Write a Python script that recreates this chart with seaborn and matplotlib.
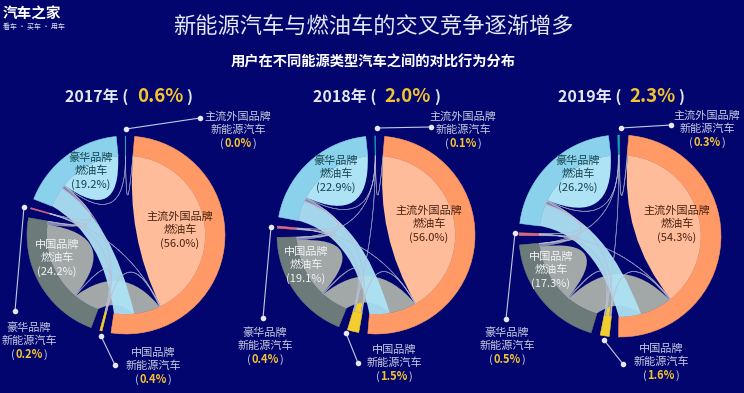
import numpy as np
import pandas as pd
import seaborn as sns
import matplotlib.pyplot as plt
from matplotlib.path import Path
from matplotlib.patches import PathPatch

sns.set_theme(style="dark")
plt.rcParams['font.family'] = ['Noto Sans CJK SC', 'DejaVu Sans']
plt.rcParams['axes.unicode_minus'] = False

BG = '#03056E'
WHITE = '#E4E8F2'
GOLD = '#F4C430'

# 年份与标题数据
years = ['2017年', '2018年', '2019年']
year_total = ['0.6%', '2.0%', '2.3%']

# 标签上的占比
luxury_oil = ['19.2%', '22.9%', '26.2%']
china_oil = ['24.2%', '19.1%', '17.3%']
foreign_oil = ['56.0%', '56.0%', '54.3%']
foreign_nev = ['0.0%', '0.1%', '0.3%']
luxury_nev = ['0.2%', '0.4%', '0.5%']
china_nev = ['0.4%', '1.5%', '1.6%']

# 弦的宽度: O主流外国燃油 Y中国新能源 G中国燃油 P豪华新能源 B豪华燃油 T主流外国新能源
link_pairs = ['OO', 'GG', 'BB', 'YY', 'PP', 'TT', 'OG', 'OB', 'OY', 'OP', 'OT',
              'GB', 'GY', 'GP', 'GT', 'BY', 'BP', 'BT', 'YP', 'YT']
links_2017 = [45.43, 17.57, 13.85, 0.04, 0.02, 0.0, 5.8, 4.5, 0.2, 0.05, 0.02,
              0.7, 0.08, 0.05, 0.0, 0.07, 0.07, 0.01, 0.01, 0.0]
links_2018 = [45.1, 13.7, 17.37, 1.53, 0.12, 0.0, 6.1, 4.6, 0.1, 0.03, 0.05,
              0.6, 0.2, 0.1, 0.02, 0.2, 0.1, 0.03, 0.05, 0.02]
links_2019 = [41.8, 13.1, 17.65, 0.82, 0.17, 0.02, 7.0, 4.9, 0.25, 0.05, 0.15,
              0.6, 0.2, 0.1, 0.03, 0.2, 0.1, 0.05, 0.08, 0.05]
all_links = [links_2017, links_2018, links_2019]

# 每个节点上弦的顺时针排列
node_order = ['O', 'Y', 'G', 'P', 'B', 'T']
partner_order = {
    'O': ['T', 'O', 'P', 'Y', 'G', 'B'],
    'Y': ['B', 'O', 'Y', 'T', 'G', 'P'],
    'G': ['O', 'Y', 'G', 'B', 'T', 'P'],
    'P': ['G', 'P', 'O', 'Y', 'B'],
    'B': ['O', 'P', 'G', 'Y', 'T', 'B'],
    'T': ['B', 'G', 'Y', 'T', 'O'],
}
ring_color = {'O': '#FF9A66', 'Y': '#F2CE2E', 'G': '#6C7A79', 'P': '#D9697F', 'B': '#8AD2EC', 'T': '#17A5B8'}
self_color = {'O': '#FFBC9A', 'Y': '#F2CE2E', 'G': '#A2A7A8', 'P': '#E8A8B4', 'B': '#ADE3F5', 'T': '#C9CEDC'}
petal_bend = {'O': 1.0, 'Y': 0.85, 'G': 0.95, 'P': 0.85, 'B': 0.85, 'T': 0.85}

# 版面(像素)
centers = [(126, 235, 99), (376, 235, 99), (620, 236, 101)]
year_x = [(65, 137, 186), (313, 384, 434), (558, 629, 678)]
foreign_pos = [(180, 230), (429, 224), (677, 224)]
luxury_pos = [(91, 171), (336, 174), (578, 174)]
china_pos = [(57, 258), (306, 265), (551, 270)]
t_line = [(126, 129, 200, 118), (377, 128, 431, 127), (621, 128, 671, 125)]
p_line = [(24, 207, 15, 311), (271, 227, 263, 318), (515, 233, 506, 319)]
y_line = [(101, 336, 115, 365), (346, 333, 358, 363), (604, 340, 623, 364)]
t_label = [(238, 130), (463, 130), (707, 129)]
p_label = [(29, 341), (265, 346), (507, 346)]
y_label = [(153, 366), (394, 363), (661, 362)]

START = 5.0
GAP = 5.3
INNER = 0.8
# 蓝色宽带两条边的控制点(角度, 半径比例)
BAND_RIGHT = (317, 0.26)
BAND_LEFT = (270, 0.29)


def pt(c, a, r):
    rad = np.radians(a)
    return (c[0] + r * np.sin(rad), c[1] - r * np.cos(rad))


def arc(c, a0, a1, r, n=40):
    return [pt(c, a, r) for a in np.linspace(a0, a1, n)]


def ctrl(c, p0, p1, t):
    m = ((p0[0] + p1[0]) / 2, (p0[1] + p1[1]) / 2)
    return (m[0] + t * (c[0] - m[0]), m[1] + t * (c[1] - m[1]))


def bend(a, b):
    d = abs(a - b) % 360
    d = min(d, 360 - d)
    return min(1.0, (d / 90) ** 1.5)


def ribbon(ax, c, seg0, seg1, color, edge='none', lw=0, alpha=1.0, force=None, z=3, polar=None):
    r = c[2] * INNER
    pts0 = arc(c, seg0[0], seg0[1], r)
    pts1 = arc(c, seg1[0], seg1[1], r)
    if polar is not None:
        c1 = pt(c, polar[0][0], polar[0][1] * r)
        c2 = pt(c, polar[1][0], polar[1][1] * r)
    else:
        t1 = force if force is not None else bend(seg0[1], seg1[0])
        t2 = force if force is not None else bend(seg1[1], seg0[0])
        c1 = ctrl(c, pts0[-1], pts1[0], t1)
        c2 = ctrl(c, pts1[-1], pts0[0], t2)
    verts = list(pts0)
    codes = [Path.MOVETO] + [Path.LINETO] * (len(pts0) - 1)
    verts += [c1, pts1[0]]
    codes += [Path.CURVE3, Path.CURVE3]
    verts += pts1[1:]
    codes += [Path.LINETO] * (len(pts1) - 1)
    verts += [c2, pts0[0]]
    codes += [Path.CURVE3, Path.CURVE3]
    ax.add_patch(PathPatch(Path(verts, codes), facecolor=color, edgecolor=edge, lw=lw, alpha=alpha, zorder=z))


def petal(ax, c, a0, a1, color, t=0.85):
    r = c[2] * INNER
    pts = arc(c, a0, a1, r)
    verts = list(pts) + [ctrl(c, pts[-1], pts[0], t), pts[0]]
    codes = [Path.MOVETO] + [Path.LINETO] * (len(pts) - 1) + [Path.CURVE3, Path.CURVE3]
    ax.add_patch(PathPatch(Path(verts, codes), facecolor=color, edgecolor='none', zorder=3))


def draw_chord(ax, c, values):
    table = pd.DataFrame({'pair': link_pairs, 'value': values})
    lookup = {}
    for pair, v in zip(table['pair'], table['value']):
        lookup[pair] = v
        lookup[pair[::-1]] = v
    total = sum(lookup[n + m] for n in node_order for m in partner_order[n])
    scale = (360 - GAP * len(node_order)) / total

    # 计算每段弧的角度
    segs = {}
    a = START
    for n in node_order:
        a0 = a
        for m in partner_order[n]:
            w = lookup[n + m] * scale
            segs[n + m] = (a, a + w)
            a += w
        ring = arc(c, a0, a, c[2]) + arc(c, a, a0, c[2] * INNER)
        ax.fill([p[0] for p in ring], [p[1] for p in ring], color=ring_color[n], lw=0.4, zorder=2)
        a += GAP

    # 自身的花瓣
    for n in node_order:
        if lookup[n + n] > 0:
            petal(ax, c, segs[n + n][0], segs[n + n][1], self_color[n], t=petal_bend[n])

    # 粗弦
    ribbon(ax, c, segs['GO'], segs['OG'], '#A2A7A8', z=4)
    ribbon(ax, c, segs['BO'], segs['OB'], '#ADE3F5', alpha=0.95, z=5, polar=(BAND_RIGHT, BAND_LEFT))

    # 细弦
    for pair, v in zip(table['pair'], table['value']):
        if pair in ('OG', 'OB') or pair[0] == pair[1] or v == 0:
            continue
        ribbon(ax, c, segs[pair], segs[pair[::-1]], '#C9CEDC', edge='#B9BFD4', lw=0.45,
               alpha=0.65, force=1.0, z=6)


def label(ax, x, y, name, pct, color, bold_gold=False):
    for i, line in enumerate(name):
        ax.text(x, y + (i - 1) * 13.4, line, color=color, fontsize=8, ha='center', va='center', zorder=9)
    # 括号与数字
    if bold_gold:
        ax.text(x - 16, y + 13.4, '(', color=color, fontsize=8, ha='center', va='center', zorder=9)
        ax.text(x, y + 13.4, pct, color=GOLD, fontsize=8, fontweight='bold', ha='center', va='center', zorder=9)
        ax.text(x + 16, y + 13.4, ')', color=color, fontsize=8, ha='center', va='center', zorder=9)
    else:
        ax.text(x, y + 13.4, '(' + pct + ')', color=color, fontsize=8, ha='center', va='center', zorder=9)


fig = plt.figure(figsize=(7.44, 3.93), dpi=100, facecolor=BG)
ax = fig.add_axes([0, 0, 1, 1])
ax.set_facecolor(BG)
ax.axis('off')

ax.text(373, 27, '新能源汽车与燃油车的交叉竞争逐渐增多', color=WHITE, fontsize=16, ha='center', va='center')
ax.text(373, 63, '用户在不同能源类型汽车之间的对比行为分布', color='white', fontsize=10.3, fontweight='bold', ha='center', va='center')
ax.text(3, 14, '汽车之家', color='white', fontsize=10.5, fontweight='bold', ha='left', va='center')
ax.text(3, 27, '看车 · 买车 · 用车', color=WHITE, fontsize=5, ha='left', va='center')

for i in range(3):
    c = centers[i]
    x0, x1, x2 = year_x[i]
    ax.text(x0, 97, years[i] + ' (', color=WHITE, fontsize=11.5, fontweight='bold', ha='left', va='center')
    ax.text(x1, 96, year_total[i], color=GOLD, fontsize=13.5, fontweight='bold', ha='left', va='center')
    ax.text(x2, 97, ')', color=WHITE, fontsize=11.5, fontweight='bold', ha='left', va='center')

    draw_chord(ax, c, all_links[i])

    # 引线和圆点
    for line in (t_line[i], p_line[i], y_line[i]):
        ax.plot([line[0], line[2]], [line[1], line[3]], color='#C4CAE0', lw=0.8, zorder=7)
        sns.scatterplot(x=[line[0], line[2]], y=[line[1], line[3]], ax=ax, color='#E6E9F5', s=16,
                        linewidth=0, zorder=8, legend=False)

    label(ax, foreign_pos[i][0], foreign_pos[i][1], ['主流外国品牌', '燃油车'], foreign_oil[i], '#4A2412')
    label(ax, luxury_pos[i][0], luxury_pos[i][1], ['豪华品牌', '燃油车'], luxury_oil[i], '#17444F')
    label(ax, china_pos[i][0], china_pos[i][1], ['中国品牌', '燃油车'], china_oil[i], '#F0F2F4')
    label(ax, t_label[i][0], t_label[i][1], ['主流外国品牌', '新能源汽车'], foreign_nev[i], '#C6CBE0', True)
    label(ax, p_label[i][0], p_label[i][1], ['豪华品牌', '新能源汽车'], luxury_nev[i], '#C6CBE0', True)
    label(ax, y_label[i][0], y_label[i][1], ['中国品牌', '新能源汽车'], china_nev[i], '#C6CBE0', True)

ax.set_xlim(0, 744)
ax.set_ylim(393, 0)
ax.axis('off')
fig.savefig('out.png', dpi=100, facecolor=BG)
